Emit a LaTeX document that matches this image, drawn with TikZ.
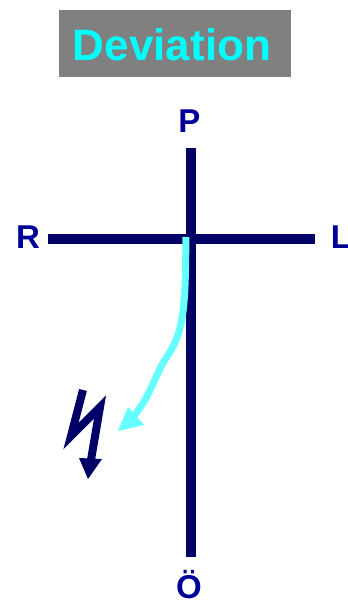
\documentclass[tikz,border=0pt]{standalone}
\usepackage{fontspec}
\setmainfont{Liberation Sans}
\begin{document}
\begin{tikzpicture}[x=1pt,y=-1pt,
  navy/.style={draw=navyc,line width=10pt},
  lbl/.style={text=labelc,font=\fontsize{33}{36}\selectfont\bfseries,inner sep=0pt,anchor=center}]
\definecolor{navyc}{HTML}{000066}
\definecolor{labelc}{HTML}{000099}
\definecolor{cyanarrow}{HTML}{66FFFF}
\definecolor{titlecyan}{HTML}{00FFFF}
\definecolor{titlegray}{HTML}{808080}
\useasboundingbox (0,0) rectangle (348,603);
% title
\fill[titlegray] (59,10) rectangle (291,77);
\node[text=titlecyan,font=\fontsize{44}{48}\selectfont\bfseries,inner sep=0pt] (title) at (172,45) {Deviation};
% cross
\coordinate (top) at (190.5,148);
\coordinate (bot) at (190.5,557);
\coordinate (left) at (48,239);
\coordinate (right) at (315,239);
\draw[navy] (top) -- (bot);
\draw[navy,line width=9.5pt] (left) -- (right);
% labels
\node[lbl] (P) at (189.5,121) {P};
\node[lbl] (R) at (28,237) {R};
\node[lbl] (L) at (341,237) {L};
\node[lbl] (O) at (189,585) {Ö};
% cyan arrow
\draw[cyanarrow,line width=7pt] (186,237) .. controls (185,300) and (186,330) .. (166,358) .. controls (155,375) and (150,398) .. (132,418);
\fill[cyanarrow] (118,431) -- (128,407) -- (144,425) -- cycle;
% lightning
\draw[navyc,line width=8pt,miter limit=10] (83,390) -- (71,436) -- (100,407) -- (91,460);
\fill[navyc] (88,479) -- (79,458) -- (102,459) -- cycle;
\end{tikzpicture}
\end{document}
